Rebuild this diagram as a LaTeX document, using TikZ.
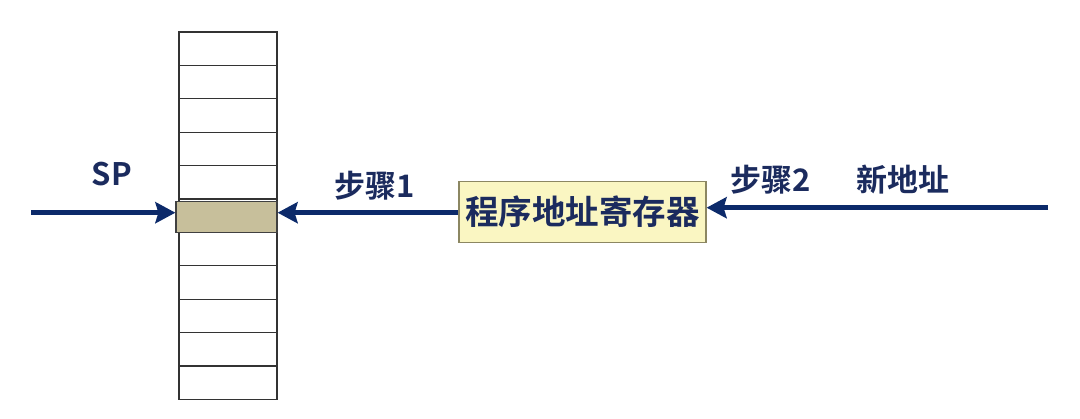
\documentclass[tikz,border=0pt]{standalone}
\usepackage{fontspec}
\newfontfamily\cjk{Noto Sans CJK SC Bold}
\usetikzlibrary{arrows.meta}
\definecolor{navy}{HTML}{0C2A6A}
\definecolor{labtext}{HTML}{1B2B5E}
\definecolor{regfill}{HTML}{FAF6C2}
\definecolor{regline}{HTML}{8C8762}
\definecolor{spfill}{HTML}{C7BF9B}
\begin{document}
\begin{tikzpicture}[x=1pt,y=-1pt,
		cell/.style={draw=black!80,line width=1.2pt,minimum width=98pt,minimum height=33.4pt,inner sep=0pt},
		spcell/.style={cell,fill=spfill,draw=black!75,minimum width=101pt,minimum height=31pt},
		reg/.style={draw=regline,line width=1.2pt,fill=regfill,minimum width=247pt,minimum height=61pt,inner sep=0pt,font=\cjk\fontsize{33.5}{36}\selectfont,text=labtext},
		lab/.style={font=\cjk\fontsize{31}{34}\selectfont,text=labtext,inner sep=0pt},
		link/.style={draw=navy,line width=4.6pt,-{Stealth[length=20pt,width=21pt,inset=3pt]}}]
		\useasboundingbox (0,0) rectangle (1080,419);
		\foreach \i in {0,...,10}
			\node [cell] (cell\i) at (228,{48.7+33.4*\i}) {};
		\node [spcell] (top) at (226.5,216.7) {};
		\node [reg] (pareg) at (582.5,212) {程序地址寄存器};
		\coordinate (spin) at (31,212.7);
		\coordinate (newaddr) at (1048,207.7);
		\draw [link] (spin) -- (top.west |- spin);
		\draw [link] (pareg.west |- spin) -- (top.east |- spin);
		\draw [link] (newaddr) -- (newaddr -| pareg.east);
		\node [lab] (sp) at (112,174) {SP};
		\node [lab] (step1) at (375,186) {步骤1};
		\node [lab] (step2) at (771,180) {步骤2};
		\node [lab] (addr) at (903,180) {新地址};
	\end{tikzpicture}
\end{document}
